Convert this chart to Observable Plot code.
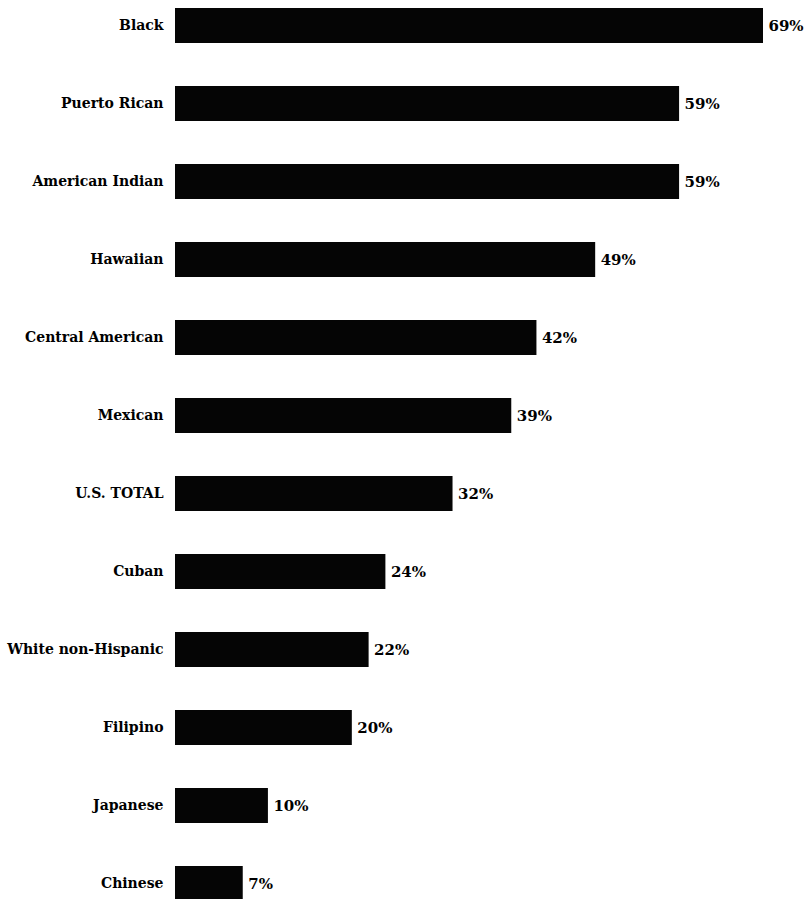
<!DOCTYPE html>
<html>
<head>
<meta charset="utf-8">
<script src="https://cdn.jsdelivr.net/npm/d3@7"></script>
<script src="https://cdn.jsdelivr.net/npm/@observablehq/plot@0.6"></script>
<style>
  html, body { margin: 0; padding: 0; background: #fff; }
  #chart svg { display: block; }
  #chart svg text { font-family: "DejaVu Serif", serif !important; }
</style>
</head>
<body>
<div id="chart"></div>
<script>
const groups = ["Black", "Puerto Rican", "American Indian", "Hawaiian", "Central American", "Mexican", "U.S. TOTAL", "Cuban", "White non-Hispanic", "Filipino", "Japanese", "Chinese"];
const percents = [69, 59, 59, 49, 42, 39, 32, 24, 22, 20, 10, 7];

const data = groups.map((g, i) => ({group: g, value: percents[i]}));

const chart = Plot.plot({
  width: 808,
  height: 899,
  marginLeft: 184,
  marginRight: 45,
  marginTop: 0,
  marginBottom: 0,
  style: {background: "#fff", color: "#000", fontFamily: "DejaVu Serif, serif"},
  x: {domain: [0, 69], axis: null},
  y: {domain: groups, range: [8, 902], paddingInner: 0.55, paddingOuter: 0, label: null},
  marks: [
    Plot.barX(data, {x: "value", y: "group", fill: "#050505", insetLeft: -9}),
    Plot.text(data, {x: "value", y: "group", text: d => d.value + "%", textAnchor: "start", dx: 5, fontSize: 15, fontWeight: "bold", fill: "#000"}),
    Plot.axisY({tickSize: 0, tickPadding: 21, fontSize: 14, fontWeight: "bold", label: null})
  ]
});
document.getElementById("chart").appendChild(chart);
</script>
</body>
</html>
